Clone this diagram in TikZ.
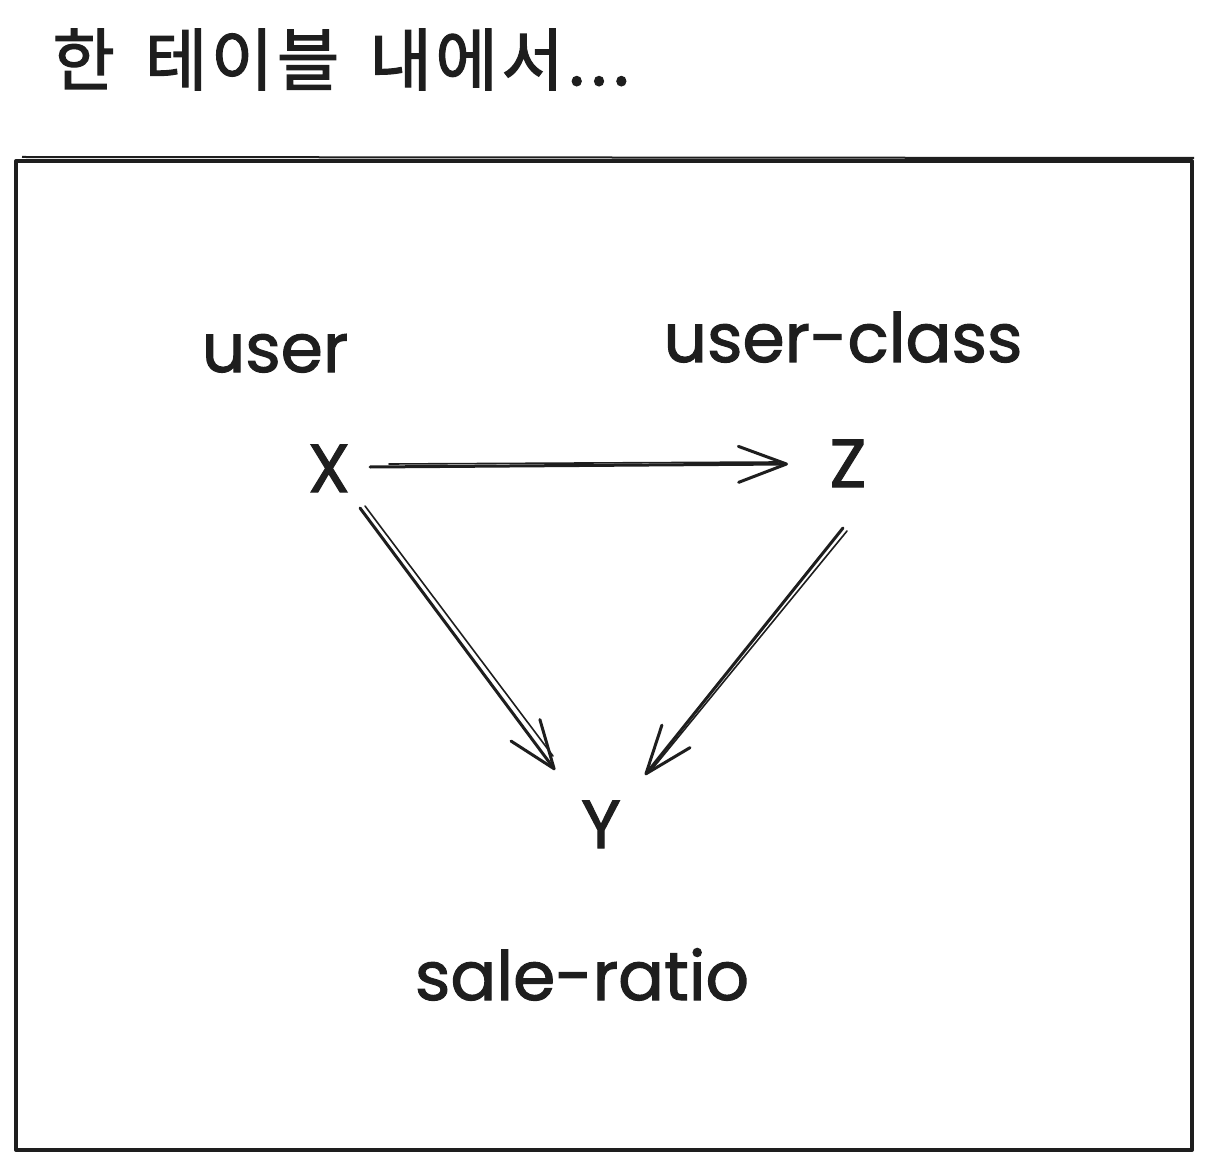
\documentclass[tikz,border=0pt]{standalone}
\usepackage{fontspec}
\setmainfont{Poppins}[FakeBold=1.6]
\newfontfamily\labfont{Poppins}[FakeBold=1.6]
\newfontfamily\kofont{Noto Sans CJK KR}[FakeBold=1.8,LetterSpace=5]
\usetikzlibrary{arrows.meta,calc}
\definecolor{ink}{HTML}{1E1E1E}
\begin{document}
\begin{tikzpicture}[x=0.5pt,y=-0.5pt,
  lbl/.style={anchor=base,inner sep=0pt,text=ink,font=\labfont\fontsize{34}{40}\selectfont},
  arr/.style={draw=ink,line width=1.5pt,line cap=round,-{Straight Barb[length=24pt,width=18pt,round]}},
  ghost/.style={draw=ink,line width=0.8pt,line cap=round},
  frame/.style={draw=ink,line width=2pt,line join=round}]
\useasboundingbox (0,0) rectangle (1214,1171);
% title
\node[anchor=base west,inner sep=0pt,text=ink,font=\kofont\fontsize{34}{40}\selectfont] (title) at (52,85) {한\hspace{15pt}테이블\hspace{15pt}내에서...};
% frame
\draw[frame] (16,161) rectangle (1192,1150);
\draw[ink,line width=1pt] (22,157) -- (1194,158);
% labels
\node[lbl] (user) at (275,372) {user};
\node[lbl] (uclass) at (843,362) {user-class};
\node[lbl] (X) at (329,492) {X};
\node[lbl] (Z) at (848,487) {Z};
\node[lbl] (Y) at (601,848) {Y};
\node[lbl] (sale) at (582,1000) {sale-ratio};
% arrows
\draw[arr] ($(X.base)+(41,-25)$) -- ($(Z.base)+(-60,-23)$);
\draw[ghost] ($(X.base)+(60,-28)$) -- ($(Z.base)+(-70,-25)$);
\draw[arr] ($(X.base)+(31,16)$) -- ($(Y.base)+(-46,-78)$);
\draw[ghost] ($(X.base)+(36,14)$) -- ($(Y.base)+(-48,-92)$);
\draw[arr] ($(Z.base)+(-5,41)$) -- ($(Y.base)+(44,-73)$);
\draw[ghost] ($(Z.base)+(-1,44)$) -- ($(Y.base)+(52,-80)$);
\end{tikzpicture}
\end{document}
